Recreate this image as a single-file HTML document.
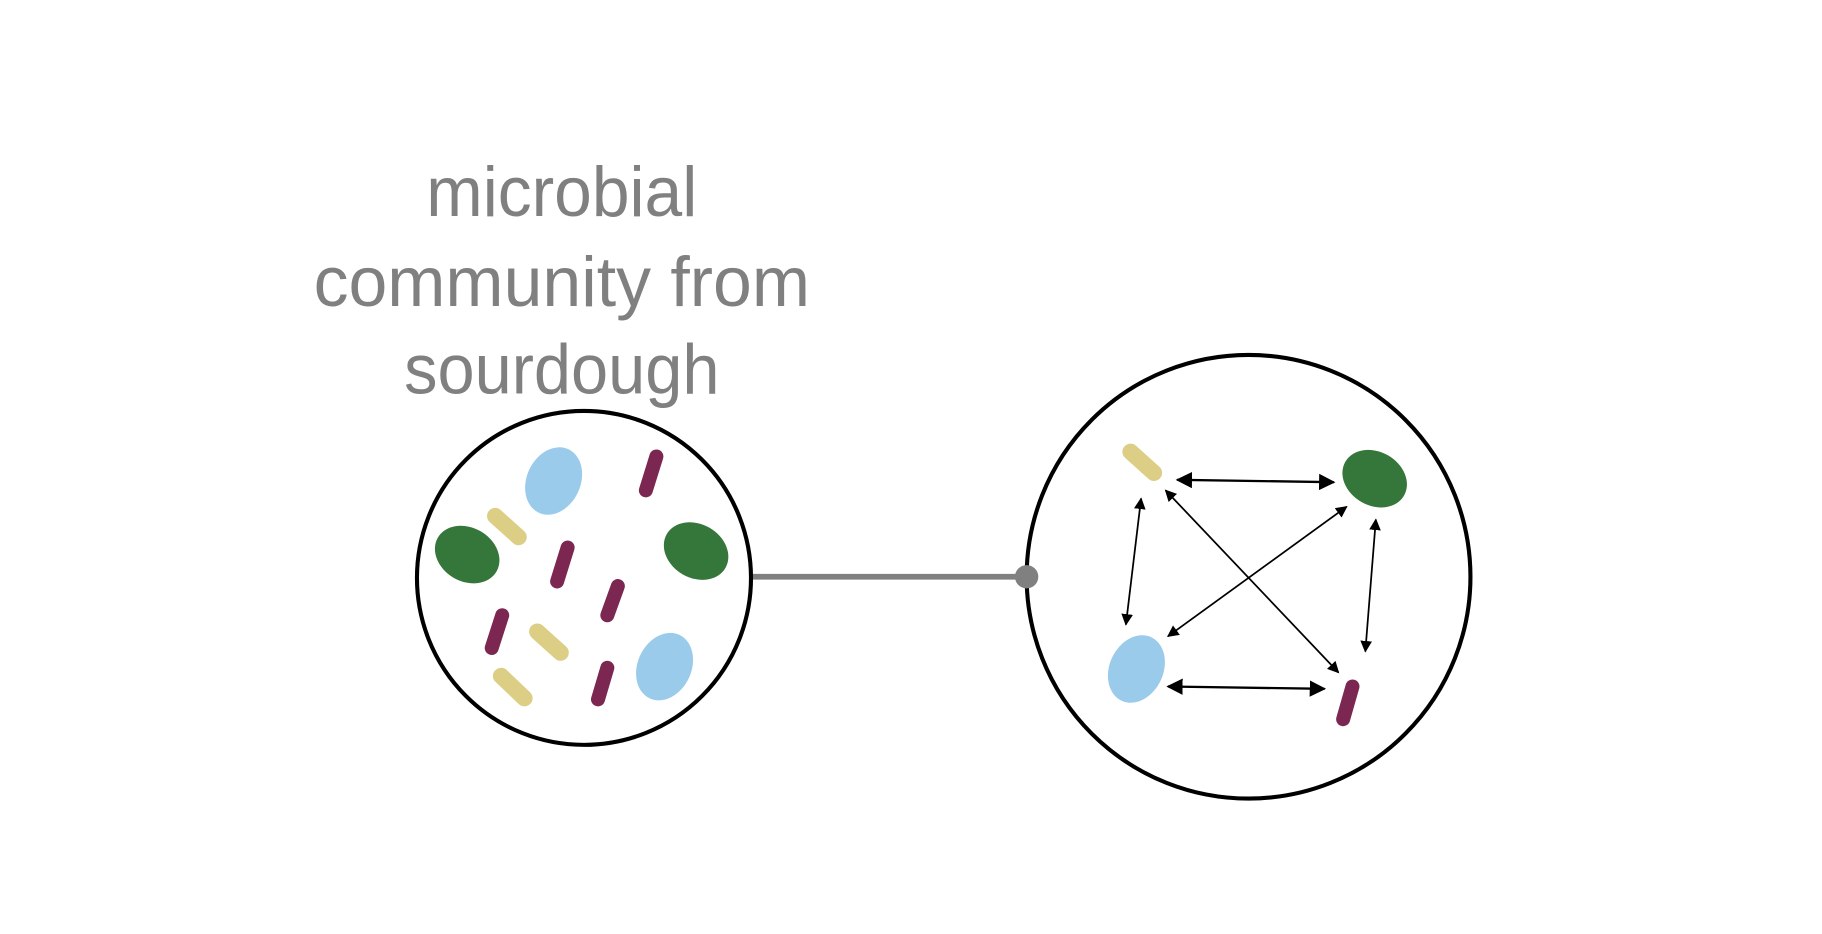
<!DOCTYPE html>
<html><head><style>html,body{margin:0;padding:0;background:#fff;}svg{display:block}</style></head>
<body>
<svg width="1822" height="934" viewBox="0 0 1560 800" preserveAspectRatio="none" xmlns="http://www.w3.org/2000/svg">
<defs>
<marker id="a" viewBox="0 0 10 10" refX="9" refY="5" markerWidth="10" markerHeight="10" markerUnits="userSpaceOnUse" orient="auto-start-reverse">
<path d="M0,0 L10,5 L0,10 z" fill="#000"/></marker>
<marker id="b" viewBox="0 0 10 10" refX="9" refY="5" markerWidth="14" markerHeight="14" markerUnits="userSpaceOnUse" orient="auto-start-reverse">
<path d="M0,0 L10,5 L0,10 z" fill="#000"/></marker>
</defs>
<g font-family="Liberation Sans, sans-serif" font-size="60" fill="#808080" text-anchor="middle">
<text x="481" y="185" textLength="232" lengthAdjust="spacingAndGlyphs">microbial</text>
<text x="481" y="262" textLength="425" lengthAdjust="spacingAndGlyphs">community from</text>
<text x="481" y="337" textLength="270" lengthAdjust="spacingAndGlyphs">sourdough</text>
</g>
<line x1="642" y1="494" x2="879" y2="494" stroke="#808080" stroke-width="5"/>
<circle cx="500" cy="495" r="143" fill="none" stroke="#000" stroke-width="3.5"/>
<circle cx="1069" cy="494" r="190" fill="none" stroke="#000" stroke-width="3.5"/>
<circle cx="879" cy="494" r="10" fill="#808080"/>
<g fill="#9acbeb">
<ellipse cx="474" cy="412" rx="23" ry="30" transform="rotate(25 474 412)"/>
<ellipse cx="569" cy="571" rx="23" ry="30" transform="rotate(25 569 571)"/>
<ellipse cx="973" cy="573" rx="23" ry="30" transform="rotate(25 973 573)"/>
</g>
<g fill="#35763a">
<ellipse cx="400" cy="475" rx="29" ry="23" transform="rotate(30 400 475)"/>
<ellipse cx="596" cy="472" rx="29" ry="23" transform="rotate(30 596 472)"/>
<ellipse cx="1177" cy="410" rx="29" ry="23" transform="rotate(30 1177 410)"/>
</g>
<g stroke="#7b2752" stroke-width="12" stroke-linecap="round">
<line x1="553" y1="420" x2="562" y2="391"/>
<line x1="477" y1="498" x2="486" y2="469"/>
<line x1="520" y1="527" x2="529" y2="502"/>
<line x1="421" y1="555" x2="430" y2="527"/>
<line x1="512" y1="599" x2="520" y2="572"/>
<line x1="1150" y1="616" x2="1158" y2="588"/>
</g>
<g stroke="#dccf85" stroke-width="14" stroke-linecap="round">
<line x1="424" y1="442" x2="444" y2="460"/>
<line x1="460" y1="541" x2="480" y2="559"/>
<line x1="429" y1="579" x2="449" y2="598"/>
<line x1="968" y1="387" x2="988" y2="405"/>
</g>
<g stroke="#000" fill="none">
<line x1="1008" y1="411" x2="1142" y2="413" stroke-width="2" marker-start="url(#b)" marker-end="url(#b)"/>
<line x1="1000" y1="588" x2="1134" y2="590" stroke-width="2" marker-start="url(#b)" marker-end="url(#b)"/>
<line x1="977" y1="427" x2="964" y2="535" stroke-width="1.5" marker-start="url(#a)" marker-end="url(#a)"/>
<line x1="1178" y1="445" x2="1169" y2="558" stroke-width="1.5" marker-start="url(#a)" marker-end="url(#a)"/>
<line x1="998" y1="420" x2="1146" y2="576" stroke-width="1.5" marker-start="url(#a)" marker-end="url(#a)"/>
<line x1="1153" y1="434" x2="1000" y2="545" stroke-width="1.5" marker-start="url(#a)" marker-end="url(#a)"/>
</g>
</svg>
</body></html>
